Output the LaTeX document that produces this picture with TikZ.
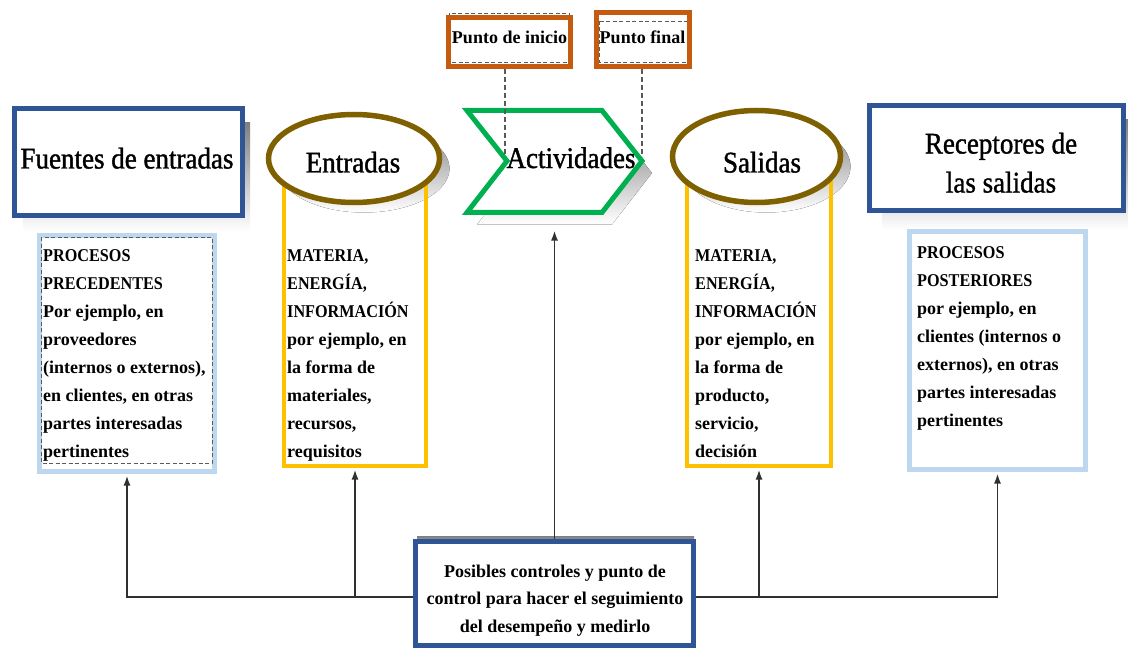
\documentclass[tikz,border=0pt]{standalone}
\usepackage{graphicx}
\usepackage{fontspec}
\setmainfont{Liberation Serif}
\newfontfamily\headfont[FakeStretch=0.9,FakeBold=1.2]{Liberation Serif}
\newcommand\narrowcaps[1]{\scalebox{0.9}[1]{#1}}
\usetikzlibrary{arrows.meta,shapes.geometric}

\definecolor{frameblue}{HTML}{2F5597}
\definecolor{olivebrown}{HTML}{7F6000}
\definecolor{amber}{HTML}{FFC000}
\definecolor{paleblue}{HTML}{BDD7EE}
\definecolor{actgreen}{HTML}{00B050}
\definecolor{rust}{HTML}{C55A11}
\definecolor{shade}{HTML}{8C8C8C}
\definecolor{wire}{HTML}{303030}
\definecolor{dashgrey}{HTML}{5A5A5A}

\tikzset{
  heading/.style={font=\headfont\fontsize{30}{39}\selectfont, inner sep=0pt},
  bodytext/.style={font=\bfseries\fontsize{18}{28}\selectfont, inner sep=0pt,
                   align=left, anchor=north west},
  smalltitle/.style={font=\bfseries\fontsize{18}{22}\selectfont, inner sep=0pt, anchor=base},
  sourcebox/.style={draw=frameblue, line width=5pt, fill=white, inner sep=0pt},
  listbox/.style={draw=paleblue, line width=5pt, fill=white, inner sep=0pt},
  flowbox/.style={draw=amber, line width=4pt, inner sep=0pt},
  flowoval/.style={ellipse, draw=olivebrown, line width=5.5pt, fill=white, inner sep=0pt},
  markbox/.style={draw=rust, line width=5pt, inner sep=0pt},
  markframe/.style={draw=dashgrey, line width=0.9pt, dash pattern=on 4pt off 2.5pt},
  guide/.style={draw=dashgrey, line width=1.3pt, dash pattern=on 5pt off 3pt},
  link/.style={draw=wire, line width=1.8pt},
  linkarrow/.style={link, -{Latex[length=10pt,width=7pt]}, shorten >=1.5pt},
}

\begin{document}
\begin{tikzpicture}[x=1pt,y=-1pt]
\useasboundingbox (0,0) rectangle (1128,650);
\fill[white] (0,0) rectangle (1128,650);

% ---- drop shadows ----
\fill[shade] (23,123) rectangle (250,231);
\fill[shade] (882,120) rectangle (1130,230);
\fill[shade] (364,168.5) ellipse [x radius=85.5, y radius=44];
\fill[shade] (766.5,166.5) ellipse [x radius=84, y radius=46];
\fill[shade] (477,122.5) -- (612,122.5) -- (652,173) -- (612,224.5) -- (477,224.5) -- (517,173) -- cycle;
\fill[shade] (417,536) rectangle (694,560);

% ---- source and receiver boxes ----
\node[sourcebox, minimum width=228pt, minimum height=107pt] (sources) at (128.5,162) {};
\node[heading, anchor=base] (sourcesTxt) at (127,168.5) {Fuentes de entradas};

\node[sourcebox, minimum width=254pt, minimum height=105pt] (receivers) at (996.5,158) {};
\node[heading, anchor=north, text width=240pt, align=flush center] (receiversTxt) at (1001,132.5)
  {Receptores de\\las salidas};

% ---- list boxes under the source and receiver boxes ----
\node[listbox, minimum width=175pt, minimum height=236pt] (prev) at (127,353.5) {};
\draw[markframe] (41,237) rectangle (212,463);
\node[bodytext] (prevTxt) at (43,249)
  {\narrowcaps{PROCESOS}\\\narrowcaps{PRECEDENTES}\\Por ejemplo, en\\proveedores\\(internos o externos),\\en clientes, en otras\\partes interesadas\\pertinentes};

\node[listbox, minimum width=176pt, minimum height=238pt] (post) at (997.5,350.5) {};
\node[bodytext] (postTxt) at (917,246)
  {\narrowcaps{PROCESOS}\\\narrowcaps{POSTERIORES}\\por ejemplo, en\\clientes (internos o\\externos), en otras\\partes interesadas\\pertinentes};

% ---- inputs and outputs ----
\node[flowbox, minimum width=142pt, minimum height=291pt] (inbox) at (355,320.5) {};
\node[flowbox, minimum width=144pt, minimum height=294pt] (outbox) at (759,319) {};

\node[flowoval, minimum width=171pt, minimum height=88pt] (inputs) at (354,158.5) {};
\node[heading, anchor=base] (inputsTxt) at (353,172.5) {Entradas};
\node[flowoval, minimum width=168pt, minimum height=92pt] (outputs) at (756.5,156.5) {};
\node[heading, anchor=base] (outputsTxt) at (762,172.5) {Salidas};

\node[bodytext] (inTxt) at (287,249)
  {\narrowcaps{MATERIA,}\\\narrowcaps{ENERGÍA,}\\\narrowcaps{INFORMACIÓN}\\por ejemplo, en\\la forma de\\materiales,\\recursos,\\requisitos};
\node[bodytext] (outTxt) at (695,249)
  {\narrowcaps{MATERIA,}\\\narrowcaps{ENERGÍA,}\\\narrowcaps{INFORMACIÓN}\\por ejemplo, en\\la forma de\\producto,\\servicio,\\decisión};

% ---- activities chevron ----
\draw[actgreen, line width=5pt, fill=white, line join=miter]
  (467,110.5) -- (602,110.5) -- (642,161) -- (602,212.5) -- (467,212.5) -- (507,161) -- cycle;
\node[heading, anchor=base] (actTxt) at (571,168) {Actividades};
\coordinate (actFoot) at (554.5,229);

% ---- start and end markers ----
\draw[markframe] (449,13) rectangle (569,62);
\node[markbox, minimum width=122pt, minimum height=49pt] (startBox) at (509.5,42) {};
\node[smalltitle] (startTxt) at (509.5,44) {Punto de inicio};

\draw[markframe] (599,21) rectangle (687,62);
\node[markbox, minimum width=93pt, minimum height=54pt] (endBox) at (643,39.5) {};
\node[smalltitle] (endTxt) at (642.5,43.5) {Punto final};

\coordinate (startMark) at (505,157);
\coordinate (endMark) at (642,157);
\draw[guide] (startBox.south -| startMark) -- (startMark);
\draw[guide] (endBox.south -| endMark) -- (endMark);

% ---- control box and its links ----
\node[sourcebox, minimum width=278pt, minimum height=104pt] (ctrl) at (554.5,593.5) {};
\node[font=\bfseries\fontsize{18}{27.5}\selectfont, inner sep=0pt, text width=275pt,
      align=flush center, anchor=north] (ctrlTxt) at (555,564.7)
  {Posibles controles y punto de\\control para hacer el seguimiento\\del desempeño y medirlo};

\coordinate (rail) at (0,597);
\draw[linkarrow] (ctrl.west |- rail) -| (prev.south);
\draw[linkarrow] (inbox.south |- rail) -- (inbox.south);
\draw[linkarrow] (ctrl.east |- rail) -| (post.south);
\draw[linkarrow] (outbox.south |- rail) -- (outbox.south);
\draw[linkarrow] (ctrl.north) -- (actFoot);
\end{tikzpicture}
\end{document}
